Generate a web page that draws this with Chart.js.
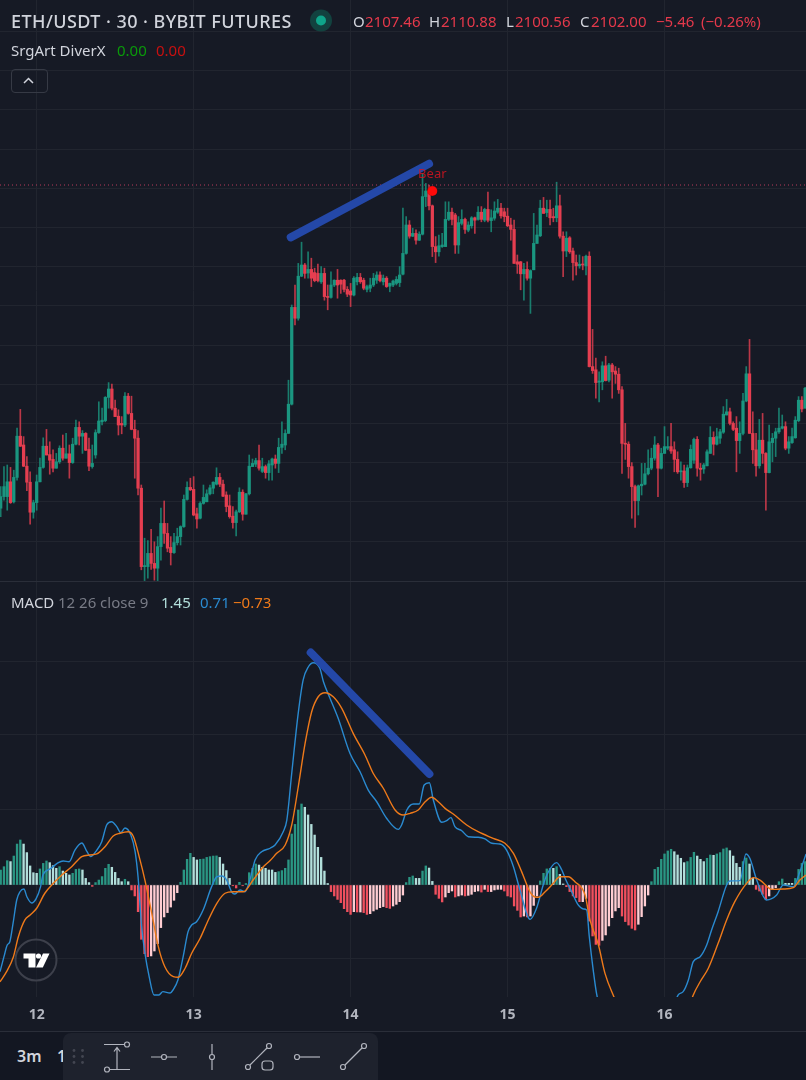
<!DOCTYPE html>
<html>
<head>
<meta charset="utf-8">
<title>ETH/USDT 30</title>
<script src="https://cdn.jsdelivr.net/npm/chart.js@4"></script>
<style>
  html, body { margin: 0; padding: 0; background: #161a25; }
  body { position: relative; width: 806px; height: 1080px; overflow: hidden; font-family: "Noto Sans", sans-serif; color: #d1d4dc; }
  canvas { position: absolute; left: 0; display: block; }
  #price-chart { top: 0; }
  #macd-chart { top: 582px; }
  .txt { position: absolute; white-space: nowrap; line-height: 1; }
  .up { color: #089981; }
  .down { color: #e5394b; }
  .sep { position: absolute; left: 0; width: 806px; height: 1px; background: #2a2e39; }
  #bottom { position: absolute; left: 0; top: 1032px; width: 806px; height: 48px; background: #131722; }
  #toolbar { position: absolute; left: 63px; top: 1033px; width: 315px; height: 47px; background: #1e222d; border-radius: 8px 8px 0 0; }
  #chevron { position: absolute; left: 11px; top: 69px; width: 35px; height: 22px; border: 1px solid #363a45; border-radius: 4px; }
  svg { position: absolute; left: 0; top: 0; }
</style>
</head>
<body>
<canvas id="price-chart" width="806" height="581"></canvas>
<div class="sep" style="top:581px"></div>
<canvas id="macd-chart" width="806" height="449"></canvas>
<div class="sep" style="top:1031px"></div>
<div id="bottom"></div>

<!-- legend rows -->
<div class="txt" style="left:11px;top:12px;font-size:18px;font-weight:500;letter-spacing:.43px">ETH/USDT · 30 · BYBIT FUTURES</div>
<div class="txt" style="left:353px;top:14px;font-size:15px">O</div>
<div class="txt down" style="left:365px;top:14px;font-size:15px">2107.46</div>
<div class="txt" style="left:429px;top:14px;font-size:15px">H</div>
<div class="txt down" style="left:441px;top:14px;font-size:15px">2110.88</div>
<div class="txt" style="left:506px;top:14px;font-size:15px">L</div>
<div class="txt down" style="left:515px;top:14px;font-size:15px">2100.56</div>
<div class="txt" style="left:580px;top:14px;font-size:15px">C</div>
<div class="txt down" style="left:591px;top:14px;font-size:15px">2102.00</div>
<div class="txt down" style="left:656px;top:14px;font-size:15px">−5.46</div>
<div class="txt down" style="left:701px;top:14px;font-size:15px">(−0.26%)</div>
<div class="txt" style="left:11px;top:43px;font-size:15px">SrgArt DiverX</div>
<div class="txt" style="left:117px;top:43px;font-size:15px;color:#0a9a0a">0.00</div>
<div class="txt" style="left:156px;top:43px;font-size:15px;color:#c81010">0.00</div>
<div id="chevron"></div>
<div class="txt" style="left:11px;top:595px;font-size:15px">MACD</div>
<div class="txt" style="left:58px;top:595px;font-size:15px;color:#787b86">12 26 close 9</div>
<div class="txt" style="left:161px;top:595px;font-size:15px;color:#b2dfdb">1.45</div>
<div class="txt" style="left:200px;top:595px;font-size:15px;color:#2a8ad0">0.71</div>
<div class="txt" style="left:233px;top:595px;font-size:15px;color:#ef7a1a">−0.73</div>
<div class="txt" style="left:17px;top:1048px;font-size:16px;font-weight:600;color:#d1d4dc">3m</div>
<div class="txt" style="left:57px;top:1048px;font-size:16px;font-weight:600;color:#d1d4dc">1</div>
<div id="toolbar"></div>

<!-- chevron, status dot, watermark and drawing tools -->
<svg width="806" height="1080" viewBox="0 0 806 1080" fill="none">
  <polyline points="24,83 28.5,78.5 33,83" stroke="#d1d4dc" stroke-width="1.5"/>
  <circle cx="321" cy="20.5" r="11" fill="#12423f"/>
  <circle cx="321" cy="20.5" r="5" fill="#0fa58a"/>
  <circle cx="36" cy="960" r="20.5" fill="#161a25" fill-opacity=".5" stroke="#3d404b" stroke-width="2"/>
  <path d="M23.5 953.5H35.5V967.5H28.5V958.5H23.5Z" fill="#fff"/>
  <circle cx="38.5" cy="956" r="2.6" fill="#fff"/>
  <path d="M43 953.5H49.5L42.8 967.5H36Z" fill="#fff"/>
  <g fill="#434651">
    <circle cx="74" cy="1050.5" r="1.4"/><circle cx="82.5" cy="1050.5" r="1.4"/>
    <circle cx="74" cy="1056.5" r="1.4"/><circle cx="82.5" cy="1056.5" r="1.4"/>
    <circle cx="74" cy="1062.5" r="1.4"/><circle cx="82.5" cy="1062.5" r="1.4"/>
  </g>
  <g stroke="#b2b5be" stroke-width="1.2">
    <path d="M104 1044.5H124.5M110 1069.5H130M117 1069V1048M114 1051.5L117 1047.5L120 1051.5"/>
    <circle cx="127" cy="1044.5" r="2.5"/><circle cx="107" cy="1069.5" r="2.5"/>
    <path d="M151 1057H161.5M166.5 1057H177"/><circle cx="164" cy="1057" r="2.5"/>
    <path d="M212 1044V1054.5M212 1059.5V1070"/><circle cx="212" cy="1057" r="2.5"/>
    <circle cx="248" cy="1067" r="2.5"/><circle cx="269" cy="1046" r="2.5"/><path d="M250 1065L267 1048"/>
    <rect x="262" y="1061" width="11" height="9" rx="3"/>
    <circle cx="297" cy="1057" r="2.5"/><path d="M299.5 1057H320"/>
    <circle cx="343" cy="1067" r="2.5"/><circle cx="364" cy="1046" r="2.5"/><path d="M345 1065L362 1048"/>
  </g>
</svg>

<script>
// 30 minute bars, oldest first
const barOpen = [
  2021.2,2024.1,2024.1,2027.8,2022.8,2028.9,2039.2,2037,2031.7,2027.7,
  2020.2,2022.6,2027.8,2031.4,2036.7,2034.6,2033.4,2031.2,2032.8,2036.2,
  2033.7,2034.8,2032.6,2037.2,2041.4,2039.2,2039.9,2035.9,2031.6,2034.5,
  2040.1,2042.8,2043.1,2048.9,2051,2046.2,2044.2,2042.4,2042,2049.2,
  2044.9,2040.9,2038.7,2026.2,2006.6,2006.6,2009.9,2007.4,2006.2,2011.6,
  2017.4,2014.9,2011.4,2010.1,2012.6,2014.1,2016.6,2023.4,2026.4,2025.9,
  2019.8,2018.7,2022.4,2022.8,2024.8,2026.2,2027.2,2028.9,2027.2,2024.5,
  2021.8,2019.2,2017.6,2020.3,2025.2,2019.7,2024.8,2031.6,2032.2,2033.1,
  2030.4,2031.6,2030.1,2032,2033.5,2032.4,2036.4,2037,2039.9,2047.2,
  2071.4,2068.7,2079.2,2082,2080,2080.9,2080.1,2079.9,2077.8,2079.9,
  2074.1,2073.9,2077,2078.2,2078.2,2078.2,2075.9,2075.5,2074.5,2077.8,
  2078.9,2078.2,2075.9,2076.2,2077,2078.2,2079.5,2077.8,2078.7,2076.7,
  2077,2077.4,2077.6,2079.7,2084.9,2092,2089.2,2089.9,2088.2,2089.7,
  2099.1,2100.5,2096.8,2086.6,2085.3,2086.6,2086.6,2093.4,2095.2,2094.5,
  2087,2092.4,2093.4,2090.7,2091.8,2093.8,2093.4,2095.2,2093.2,2095.9,
  2093.1,2093.7,2095.2,2096.2,2095.3,2094.2,2092,2090.9,2082.8,2082.8,
  2079.8,2080.9,2078.7,2080.8,2087.4,2089.3,2096.2,2095.1,2095.9,2094.1,
  2093.8,2096.8,2089.2,2085.5,2088.8,2085.5,2082.6,2081.8,2082.2,2081.8,
  2084.2,2056.6,2055.8,2052.7,2052.8,2056.8,2053.2,2057,2055.5,2054.7,
  2050.8,2037.4,2037.2,2031.6,2026.6,2023.1,2026.8,2027.2,2029.8,2031.2,
  2033.7,2037,2031.2,2034.9,2036.2,2036.6,2035.8,2033.4,2030.3,2030.5,
  2027.6,2031.3,2033.2,2038.4,2031.2,2031,2031.8,2034.9,2038.9,2037.2,
  2038.7,2040.2,2044.5,2045.3,2042.4,2041.2,2038.1,2039.9,2048,2054.8,
  2039.9,2035.8,2031.8,2038.2,2034.9,2030.1,2037.6,2038.7,2040.3,2041.2,
  2041.6,2036.2,2037.6,2038.8,2043.1,2048.2,2046.2
];
const barHigh = [
  2026.6,2031.6,2032,2031.4,2030.7,2041.2,2045.9,2039.1,2034.1,2030.3,
  2023.2,2029.5,2033.7,2038.8,2040.9,2037.8,2035.8,2034.9,2036.8,2039.5,
  2039.9,2037,2038.7,2043.2,2042.8,2040.6,2040.1,2038.7,2037,2040.8,
  2047.8,2046.2,2049.1,2052.6,2052.2,2048.2,2045.8,2044.1,2050.1,2049.9,
  2049.2,2043.2,2040.6,2027,2013.7,2013.1,2015.9,2012.8,2014.1,2021.2,
  2023,2017.4,2014.1,2014.9,2016.2,2016.8,2024.5,2027.8,2028.7,2029.1,
  2021.2,2022.8,2027,2025.8,2027,2027.8,2031.3,2029.9,2028.2,2025.3,
  2024.5,2021.6,2020.7,2026.3,2025.8,2024.9,2034.5,2033.5,2033.7,2037,
  2033.7,2032,2033.1,2033.7,2034.5,2038.7,2042.8,2040.8,2053.2,2072,
  2077,2082.4,2087.7,2082.4,2085.3,2083.7,2081.2,2082.2,2081.6,2081.2,
  2077,2080.3,2078.3,2080.9,2078.3,2078.4,2076.6,2077.4,2079.1,2079.9,
  2079.9,2078.7,2077,2078.7,2079.9,2080.3,2080.3,2079.5,2079.1,2077.5,
  2078.2,2079.1,2081.6,2096.2,2094.1,2093.1,2091.2,2090.8,2090.3,2104.9,
  2102.4,2102,2097,2089.1,2089.5,2089.9,2097.8,2097.8,2096.2,2094.9,
  2094.1,2095.8,2093.7,2092.8,2094.1,2094,2096.6,2096.6,2096.2,2100.2,
  2095.8,2097.8,2098.4,2097.4,2096.2,2096.2,2093.7,2093.2,2084.5,2082.9,
  2082.4,2082.8,2080.8,2094.9,2092,2098.2,2098.9,2098.2,2098.2,2096.2,
  2102.7,2099.5,2090.3,2090.3,2089.1,2086.2,2084.5,2084.5,2084.1,2084.5,
  2085.3,2065.9,2058.7,2055.3,2057.8,2059.2,2057.4,2057.4,2056.6,2056.2,
  2051.6,2042.4,2037.8,2032.6,2027,2027,2032.4,2032.4,2035.8,2036.2,
  2039.1,2037.4,2036.2,2041.6,2039.1,2042.4,2037.8,2035.3,2032.8,2032,
  2032,2037,2038.7,2039.1,2032.4,2032.4,2035.8,2041.6,2040.3,2041.2,
  2040.9,2046.6,2048.4,2046.2,2042.8,2044.1,2042.8,2049.9,2056.6,2063.4,
  2045.3,2039.9,2043.4,2044.9,2035.1,2042,2039.9,2041.2,2046.2,2044.5,
  2042.8,2039.1,2041.2,2044.1,2049.1,2049.1,2051.4
];
const barLow = [
  2019.1,2023.2,2020.7,2022.4,2022.5,2028.2,2036.6,2031.6,2025.6,2017.2,
  2018.7,2020.7,2027.8,2031.2,2034.5,2029.7,2030.3,2031.2,2032.4,2033.2,
  2033.7,2028.7,2032.4,2037,2037,2034.9,2035.6,2030.6,2031.2,2033.7,
  2039.9,2042,2042.8,2046.2,2045.8,2044.1,2039.5,2039.8,2041.6,2044.7,
  2040.8,2028.7,2024.5,2005.8,2003.1,2003.7,2005.9,2003.2,2003.1,2008.2,
  2012.4,2010.3,2007,2009.9,2012,2012,2016.4,2023.2,2025.6,2019.3,
  2016.2,2018.5,2022.2,2022.8,2024.5,2024.8,2027,2026.6,2024.1,2020.3,
  2018.7,2016.2,2014.3,2020.1,2018.2,2019.7,2024.5,2031.6,2031.6,2030.7,
  2030.1,2028.7,2028.2,2028.2,2031.2,2030.1,2034.9,2035.8,2039.9,2047,
  2067,2068.2,2079.1,2078.7,2078.7,2076.6,2077.8,2077.8,2077.4,2073.2,
  2070.8,2073.7,2076.6,2073.7,2074.9,2075.3,2074.1,2071.6,2074.3,2077,
  2077.4,2075.8,2075.3,2075.3,2076.6,2077.4,2077.8,2077,2076.4,2075.3,
  2076.6,2077,2076.6,2079.5,2084.7,2088.7,2089.1,2087.2,2088.1,2089.5,
  2096.6,2095.8,2084.1,2082.6,2084.2,2086.4,2086.6,2093.1,2092,2084.9,
  2084.9,2092,2089.9,2090.3,2091.2,2089.9,2093.2,2092.8,2092.8,2092.8,
  2090.3,2093.2,2094.9,2093.7,2092.8,2091.6,2088.2,2082.4,2079.9,2075.8,
  2073.2,2078.2,2069.9,2080.8,2087.4,2089.1,2094.9,2094.1,2092,2092.8,
  2092.8,2088.7,2079.1,2084.1,2084.9,2078.2,2079.5,2081.2,2080.8,2079.5,
  2056.5,2054.9,2048.7,2047.8,2050.8,2053,2052.8,2048.7,2052.4,2049.9,
  2029.9,2033.4,2028.7,2018.7,2016.4,2019.5,2024.5,2027,2029.5,2030.8,
  2033.2,2024.1,2031,2034.9,2035.8,2034.9,2030.3,2029.9,2028.2,2026.4,
  2026.6,2031.2,2032.4,2029.2,2028.2,2029.9,2031.8,2034.9,2034.5,2037,
  2037.4,2039.9,2044.5,2042,2040.6,2030.3,2034.9,2039.5,2047.8,2039.9,
  2032.4,2029.2,2031.2,2032.4,2020.7,2030,2032.8,2034.1,2039.9,2041,
  2035.8,2034.9,2037.4,2038.7,2042.8,2045.3,2046.2
];
const barClose = [
  2024.1,2026.6,2027.8,2022.6,2028.9,2039.2,2036.7,2031.7,2027.7,2020.2,
  2022.6,2027.8,2031.4,2036.7,2034.5,2033.2,2031.2,2032.8,2036.2,2033.7,
  2034.8,2032.6,2037.2,2041.4,2039.2,2039.9,2035.7,2031.7,2032.4,2040.1,
  2043,2043.2,2048.9,2051,2046.2,2044.1,2042,2042,2049.2,2044.9,
  2040.9,2038.7,2026.2,2006.6,2006.8,2009.9,2007.4,2006.2,2011.6,2017.4,
  2014.9,2011.2,2010.1,2012.6,2014.1,2016.6,2023.4,2026.4,2025.8,2019.5,
  2018.5,2022.4,2023.9,2024.8,2026.3,2027.7,2028.9,2027.2,2024.2,2021.6,
  2019.1,2017.6,2020.3,2025.2,2019.7,2024.8,2031.7,2032.4,2033.1,2031.2,
  2031.6,2030.1,2032.3,2033.5,2032.4,2036.4,2037.2,2039.9,2047.2,2071.4,
  2068.7,2079.2,2082,2079.9,2080.9,2078.7,2078.1,2078.1,2079.9,2074.1,
  2073.9,2077,2078.2,2077,2077.2,2075.9,2074.7,2074.5,2078.7,2078.9,
  2077.8,2076.2,2076.6,2077,2078.7,2079.5,2078.1,2078.7,2076.6,2077.4,
  2078,2078.4,2079.5,2084.9,2092,2089.2,2089.9,2088.2,2089.7,2099.1,
  2100.5,2096.8,2086.6,2085.3,2086.8,2087,2093.4,2095.2,2093.4,2087,
  2092.6,2093.4,2090.9,2092,2093.8,2093.2,2095.2,2093.4,2095.9,2093.2,
  2093.8,2095.5,2096.2,2094.3,2094.1,2091.8,2090.9,2082.4,2082.2,2079.8,
  2080.9,2078.7,2080.6,2087.4,2089.5,2096.2,2094.9,2095.9,2093.8,2093.8,
  2096.8,2089.2,2085.5,2088.7,2085.3,2082.6,2081.8,2082.2,2082,2084.2,
  2056.6,2055.6,2052.6,2053,2056.8,2053.1,2057,2055.3,2054.7,2050.8,
  2037.4,2037.2,2031.6,2026.6,2023.1,2026.8,2027.2,2029.8,2031.2,2033.7,
  2037,2031.2,2034.9,2036.6,2036.6,2035.5,2033.4,2030.3,2030.5,2027.6,
  2031.3,2035.9,2038.4,2031.2,2030.9,2032,2035.3,2038.9,2037.2,2039.1,
  2040.3,2044.7,2045.3,2042.4,2040.9,2038.1,2039.9,2048,2054.8,2039.9,
  2035.8,2031.8,2038.2,2034.9,2030.1,2037.8,2038.7,2040.3,2041.2,2041.6,
  2036.2,2037.8,2039.1,2043.2,2048.2,2046,2051.2
];

// MACD histogram, one value per bar
const macdHist = [
  1,1.22,1.62,1.56,1.93,2.73,3,2.73,2.16,1.27,
  .82,.78,1.07,1.44,1.6,1.49,1.29,1.11,1.22,.93,
  .78,.67,.78,1.04,1.07,1,.44,.16,-.09,.16,
  .33,.56,1.11,1.38,1.18,.84,.44,.22,.38,.22,
  -.33,-.73,-1.78,-3.62,-4.58,-4.78,-4.73,-4.4,-3.91,-2.84,
  -2.13,-1.84,-1.47,-1.02,-.51,.18,1,1.71,2.11,1.84,
  1.67,1.71,1.73,1.84,1.89,1.93,1.94,1.84,1.4,.96,
  .44,-.05,-.2,.18,-.05,.1,.82,1.11,1.4,1.33,
  1.18,1.11,1,1,.84,.89,.96,1.11,1.67,3.4,
  4.04,5,5.4,5.18,4.67,4.04,3.33,2.51,1.84,.93,
  .1,-.44,-.73,-.96,-1.18,-1.58,-1.78,-1.96,-1.78,-1.8,
  -1.8,-1.84,-1.96,-1.91,-1.73,-1.62,-1.51,-1.44,-1.51,-1.56,
  -1.4,-1.29,-1.11,-.67,.16,.51,.6,.44,.44,.93,
  1.27,1.13,.24,-.62,-.89,-1.13,-.8,-.51,-.4,-.8,
  -.73,-.67,-.73,-.69,-.62,-.44,-.4,-.47,-.29,-.44,
  -.44,-.33,-.29,-.29,-.4,-.73,-.8,-1.4,-1.69,-2.13,
  -2.07,-2.13,-2.07,-1.36,-.73,.27,.78,1.07,1.11,1.11,
  1.22,.71,.07,-.11,-.44,-.73,-.84,-1.11,-1.11,-.89,
  -2.4,-3.4,-3.96,-4.02,-3.69,-3.33,-2.73,-2.18,-1.73,-1.51,
  -2.07,-2.44,-2.67,-2.89,-3,-2.62,-2.11,-1.4,-.67,.22,
  1.04,1.18,1.71,2.07,2.27,2.38,2.22,2,1.78,1.49,
  1.56,1.84,2.18,1.93,1.71,1.56,1.78,2,1.98,2.07,
  2.16,2.4,2.47,2.29,1.93,1.44,1.18,1.56,1.8,1.4,
  .44,-.29,-.4,-.62,-.96,-.73,-.29,-.18,.22,.4,
  .11,.11,.11,.44,1.04,1.44,1.56
];

// MACD and signal lines, read at their turning points
const macdBars = [
  -.2,1,2,2.8,3.8,4.9,5.9,7.1,8,9.5,10.8,12.2,12.9,15.1,17.5,19.1,20.9,22.7,24.8,26.4,
  27.5,29.4,30.9,32.4,33.9,35.5,36.7,38,39.8,41.1,42,43.1,44.1,45.4,46.9,48.4,49.6,51.8,52.7,54.2,
  55.8,57.3,58.4,59.9,61.9,64.5,66.1,67.6,69.1,70.6,71.6,73.2,74.7,76.2,77.8,79.8,82.4,83.9,86.4,87.5,
  89,91,92.5,94.1,95.6,97.6,98.7,100.7,103.2,106.8,109.9,112.4,115,118,121.6,122.6,124.2,126.2,128,129.5,
  131.1,132.3,134.9,136.4,137.7,138.9,141,143,146,148.1,150.2,152.7,154.7,156.8,158.8,161.9,163.9,165.9,167,170,
  171.6,172.6,174.6,176.6,178.2,179.2,180,181.2,182.3,187,195,203,207.2,208.7,210.3,211.8,213.9,215.9,217.4,219.4,
  222,223,226.1,227.9,229.1,231.2,234.2,237.3,239.3,242.4,244.4,246.3
];
const macdLine = [
  -5.78,-4.78,-4,-3.78,-2.53,-1,-.45,-.27,-.78,-1.2,-.93,-.11,.67,1.07,1.47,1.6,1.55,2.33,2.8,2.22,
  1.89,2.33,2.89,4,4.22,3.89,3.49,3.8,3.33,2.22,.55,-2.78,-4.53,-6.11,-7.33,-7.33,-7.11,-7.2,-7,-6.33,
  -4.78,-3.11,-2.67,-2.45,-1.67,-.11,.55,.6,.33,-.45,-.6,-.33,-.45,.33,1.67,2.22,2.45,2.67,3.55,4.33,
  7.45,11.47,13.67,14.55,14.82,14.45,13.55,12.45,11.11,8.78,7.55,6.33,5.55,4.45,3.71,4,5,5.4,5.4,6.67,
  6.82,5.67,4.18,4.29,4.49,3.89,3.62,3.22,3.18,3.07,2.78,2.73,2.33,1.22,-.33,-2.29,-1.53,0,.67,1.49,
  1,.45,-.45,-1.33,-1.6,-1.67,-3.45,-5.67,-7.33,-10.5,-12.5,-10,-7.33,-7.11,-6.33,-5.11,-4.78,-4,-3,-1.78,
  0,.27,.29,2.07,1.78,.33,-1,-.67,0,-.11,.89,2.07
];
const signalBars = [
  -.2,1.8,3.9,5.4,7.4,9,11,13.5,16.1,18.7,21.7,24.8,27.3,29.4,31.9,34.4,36.5,39,40.6,42.6,
  44.1,46.2,48.2,50.2,52.8,54.3,56.4,58.4,61,63.5,66.1,68.6,71.1,74.2,77.2,80.3,82.4,84.4,87,89,
  91,93.1,95.1,97.1,99.2,101.7,104.3,107.8,111.4,113.9,117,120.6,123.1,125.2,127.7,129.8,131.8,133.8,135.9,138.4,
  142.5,146,150.6,154.2,156.8,159.3,161.9,163.4,164.4,166.5,169,171,173.6,175.6,178.7,180.2,182.8,184.8,187.3,192,
  198,206,211.8,213.9,216.4,219.4,222,224.5,228.1,230.2,232.2,235.8,239.3,242.4,244.4,246.3
];
const signalLine = [
  -6.45,-5.78,-4.78,-3.45,-2.33,-2,-1.55,-.55,.11,.67,1.22,1.89,2,2.07,2.55,3.27,3.45,3.55,3.22,1.67,
  .33,-1.89,-4.11,-5.45,-6.11,-6.15,-5.55,-4.55,-3.55,-2.33,-1.22,-.55,-.45,-.45,.33,1.22,1.63,2.11,2.67,4,
  6.55,9.45,11.55,12.55,12.82,12.55,11.78,10.11,8.67,7.45,6.45,5,4.67,4.78,5,5.55,5.85,5.55,5.11,4.73,
  4,3.55,3.11,2.78,2.11,.89,-.47,-.8,-.82,-.45,.11,.55,.55,.22,-.67,-2.33,-4,-5.89,-7.33,-9.5,
  -11,-11,-7.33,-6.45,-5.55,-3.89,-2.33,-1.11,.11,.49,.33,-.29,-.27,-.18,.33,.67
];

// hand drawn trend lines and the indicator's bearish divergence signal
const priceTrendBars = [88.7, 131];
const priceTrendValues = [2088.9, 2107.3];
const macdTrendBars = [94.8, 131.1];
const macdTrendValues = [15.5, 7.4];
const lastClose = 2102;
const bearSignalBar = 132;
const bearSignalPrice = 2100.5;

// time axis: each day starts on the 00:00 bar
const dayBars = [11, 59, 107, 155, 203];
const dayLabels = ['12', '13', '14', '15', '16'];
const priceLevels = [2140.4, 2130.6, 2120.8, 2111, 2101.2, 2091.4, 2081.6, 2071.8, 2062, 2052.2, 2042.4, 2032.6, 2022.8, 2013];
const macdLevels = [-4.9, 0, 5, 10, 14.9];

const UP = '#1a9680', DOWN = '#e53e50';
const GRID = '#21252f';
const X_MIN = -0.214, X_MAX = 246.27;

function pairs(xs, ys) {
    return xs.map((x, i) => ({x: x, y: ys[i]}));
}

function x_axis(opts) {
    return Object.assign({
        type: 'linear', min: X_MIN, max: X_MAX, offset: false,
        grid: {color: GRID, drawTicks: false, offset: false},
        border: {display: false},
        afterBuildTicks: s => { s.ticks = dayBars.map(v => ({value: v})); }
    }, opts);
}

function y_axis(min, max, levels) {
    return {
        min: min, max: max,
        grid: {color: GRID, drawTicks: false},
        border: {display: false},
        ticks: {display: false},
        afterBuildTicks: s => { s.ticks = levels.map(v => ({value: v})); },
        afterFit: s => { s.width = 0; }
    };
}

const barColors = barClose.map((c, i) => c >= barOpen[i] ? UP : DOWN);
const wickColors = barColors.map(c => c + 'cc');
const histColors = macdHist.map((v, i) => {
    const prev = i ? macdHist[i - 1] : 0;
    if (v >= 0) return v > prev ? '#2a9683' : '#b2dfdb';
    return v < prev ? '#f0505e' : '#ffcdd2';
});

// "Bear" tag sits above the signal dot
const bearTag = {
    id: 'bearTag',
    afterDatasetsDraw(chart) {
        const ctx = chart.ctx;
        ctx.save();
        ctx.font = '13px "Noto Sans"';
        ctx.textAlign = 'center';
        ctx.fillStyle = 'rgba(214,20,32,.85)';
        ctx.fillText('Bear', chart.scales.x.getPixelForValue(bearSignalBar), chart.scales.y.getPixelForValue(bearSignalPrice) - 13);
        ctx.restore();
    }
};

new Chart(document.getElementById('price-chart'), {
    data: {
        datasets: [
            {type: 'line', data: pairs(priceTrendBars, priceTrendValues), borderColor: '#2448a8', borderWidth: 8, borderCapStyle: 'round', pointRadius: 0, order: 1},
            {type: 'scatter', data: [{x: bearSignalBar, y: bearSignalPrice}], backgroundColor: '#ff0a0a', pointRadius: 5, order: 0},
            {type: 'line', data: pairs([X_MIN, X_MAX], [lastClose, lastClose]), borderColor: '#b93a5c', borderWidth: 1, borderDash: [1, 3], pointRadius: 0, order: 2},
            {type: 'bar', data: barHigh.map((h, i) => ({x: i, y: [barLow[i], h]})), backgroundColor: wickColors, barThickness: 1, grouped: false, order: 4},
            {type: 'bar', data: barOpen.map((o, i) => ({x: i, y: [o, barClose[i]]})), backgroundColor: barColors, barThickness: 2.6, minBarLength: 1, grouped: false, order: 3}
        ]
    },
    options: {
        responsive: false, animation: false, events: [],
        layout: {padding: 0, autoPadding: false},
        plugins: {legend: {display: false}, tooltip: {enabled: false}},
        scales: {
            x: x_axis({ticks: {display: false}, afterFit: s => { s.height = 0; }}),
            y: y_axis(2003, 2148.25, priceLevels)
        }
    },
    plugins: [bearTag]
});

new Chart(document.getElementById('macd-chart'), {
    data: {
        datasets: [
            {type: 'line', data: pairs(macdTrendBars, macdTrendValues), borderColor: '#2448a8', borderWidth: 8, borderCapStyle: 'round', pointRadius: 0, order: 0},
            {type: 'line', data: pairs(macdBars, macdLine), borderColor: '#2a8ad0', borderWidth: 1.4, pointRadius: 0, cubicInterpolationMode: 'monotone', order: 2},
            {type: 'line', data: pairs(signalBars, signalLine), borderColor: '#ef7a1a', borderWidth: 1.4, pointRadius: 0, cubicInterpolationMode: 'monotone', order: 1},
            {type: 'bar', data: macdHist.map((v, i) => ({x: i, y: v})), backgroundColor: histColors, barThickness: 1.7, order: 3}
        ]
    },
    options: {
        responsive: false, animation: false, events: [],
        layout: {padding: 0, autoPadding: false},
        plugins: {legend: {display: false}, tooltip: {enabled: false}},
        scales: {
            x: x_axis({
                ticks: {
                    padding: 10, color: '#b2b5be', maxRotation: 0, autoSkip: false,
                    font: {family: '"Noto Sans"', size: 14, weight: 'bold'},
                    callback: v => dayLabels[dayBars.indexOf(v)]
                },
                afterFit: s => { s.height = 34; }
            }),
            y: y_axis(-7.467, 20.2, macdLevels)
        }
    }
});
</script>
</body>
</html>
